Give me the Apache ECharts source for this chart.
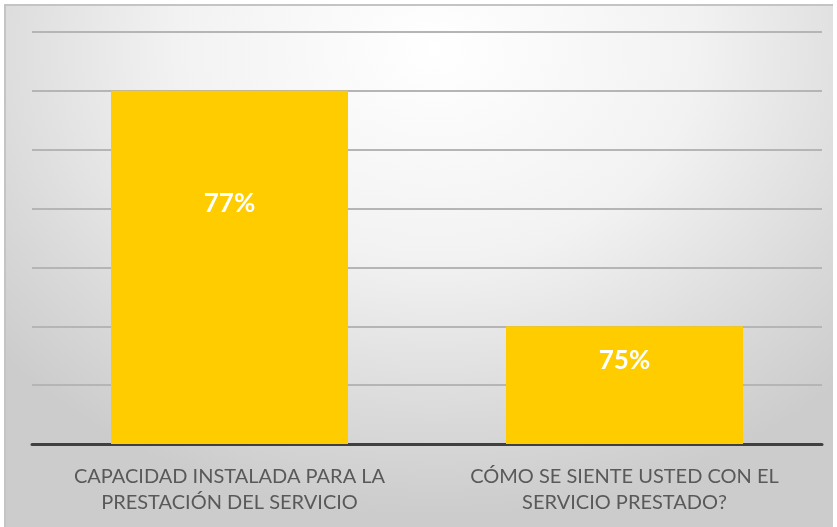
<!DOCTYPE html>
<html>
<head>
<meta charset="utf-8">
<script src="https://cdn.jsdelivr.net/npm/echarts@6/dist/echarts.min.js"></script>
<style>
  html, body { margin: 0; padding: 0; background: #ffffff; }
  #frame {
    position: absolute; left: 4px; top: 4px; width: 829px; height: 523px;
    box-sizing: border-box; border-top: 2px solid #c4c4c4; border-left: 2px solid #c4c4c4;
    background: radial-gradient(ellipse 70% 90% at 52% 8%, #ffffff 0%, #f2f2f2 45%, #d9d9d9 80%, #cccccc 100%);
  }
  #chart { position: absolute; left: 0; top: 0; width: 837px; height: 527px; }
</style>
</head>
<body>
<div id="frame"></div>
<div id="chart"></div>
<script>
  // Survey results: share of satisfied respondents per question
  const categories = [
    'CAPACIDAD INSTALADA PARA LA\nPRESTACIÓN DEL SERVICIO',
    'CÓMO SE SIENTE USTED CON EL\nSERVICIO PRESTADO?'
  ];
  const values = [77, 75];
  // vertical placement of each value label inside its bar
  const labelSpots = ['32%', '29%'];

  const chart = echarts.init(document.getElementById('chart'), null, { renderer: 'canvas' });

  chart.setOption({
    backgroundColor: 'transparent',
    animation: false,
    grid: { left: 32, right: 15, top: 32, bottom: 83, containLabel: false },
    xAxis: {
      type: 'category',
      data: categories,
      axisLine: { show: true, lineStyle: { color: '#404040', width: 3 } },
      axisTick: { show: false },
      axisLabel: {
        color: '#595959',
        fontFamily: 'Lato, "Open Sans", sans-serif',
        fontSize: 20,
        lineHeight: 26,
        margin: 20,
        interval: 0
      }
    },
    yAxis: {
      type: 'value',
      min: 74,
      max: 77.5,
      interval: 0.5,
      axisLine: { show: false },
      axisTick: { show: false },
      axisLabel: { show: false },
      splitLine: { show: true, lineStyle: { color: '#b5b5b5', width: 2 } }
    },
    series: [{
      type: 'bar',
      barCategoryGap: '40%',
      itemStyle: { color: '#ffcc00' },
      data: values.map((v, i) => ({
        value: v,
        label: { position: ['50%', labelSpots[i]] }
      })),
      label: {
        show: true,
        formatter: '{c}%',
        color: '#ffffff',
        fontWeight: 'bold',
        fontSize: 26,
        fontFamily: 'Lato, "Open Sans", sans-serif',
        align: 'center',
        verticalAlign: 'middle'
      }
    }]
  });
</script>
</body>
</html>
